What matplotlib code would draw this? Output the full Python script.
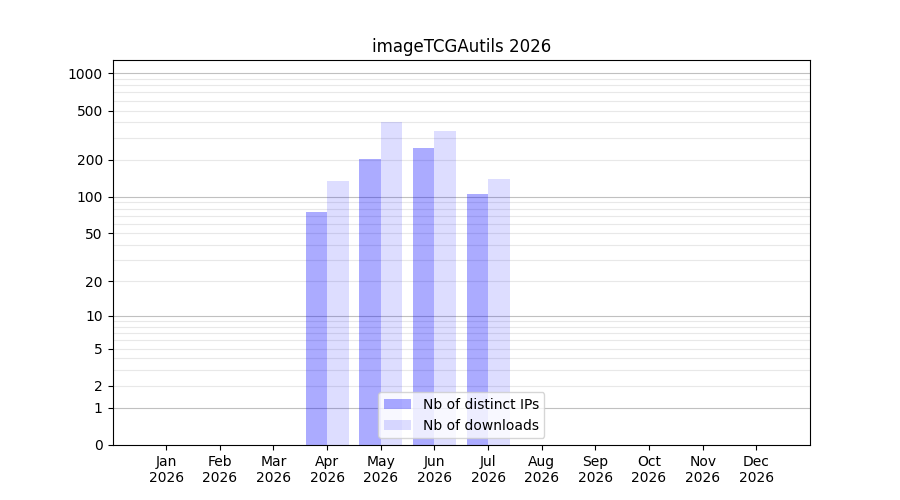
import numpy as np
import matplotlib
matplotlib.use('Agg')
from matplotlib import pyplot as plt

# data
months = ['Jan', 'Feb', 'Mar', 'Apr', 'May', 'Jun', 'Jul', 'Aug', 'Sep', 'Oct', 'Nov', 'Dec']
year = '2026'
nb_ips = [0, 0, 0, 75, 201, 247, 105, 0, 0, 0, 0, 0]
nb_downloads = [0, 0, 0, 134, 401, 339, 139, 0, 0, 0, 0, 0]
ytick_values = [0, 1, 2, 5, 10, 20, 50, 100, 200, 500, 1000]


def fwd(y):
    return np.log10(1 + np.clip(y, 0, None))


def inv(y):
    return 10 ** y - 1


fig, ax = plt.subplots(figsize=(9, 5), dpi=100)
ax.set_yscale('function', functions=(fwd, inv))

# grid lines: darker at decades, lighter between
for d in [1, 10, 100]:
    for k in range(2, 10):
        ax.axhline(d * k, color='#e8e8e8', lw=0.8, zorder=0)
for d in [1, 10, 100, 1000]:
    ax.axhline(d, color='#c0c0c0', lw=0.8, zorder=0)

x = np.arange(len(months))
ax.bar(x - 0.2, nb_ips, width=0.4, color='blue', alpha=0.33, label='Nb of distinct IPs', zorder=1)
ax.bar(x + 0.2, nb_downloads, width=0.4, color='blue', alpha=0.133, label='Nb of downloads', zorder=1)

ax.set_xticks(x)
ax.set_xticklabels([m + '\n' + year for m in months])
ax.set_xlim(-1, 12)

ax.set_yticks(ytick_values)
ax.set_yticklabels([str(v) for v in ytick_values])
ax.yaxis.set_minor_locator(matplotlib.ticker.NullLocator())
ax.set_ylim(0, 1280)

ax.set_title('imageTCGAutils 2026')
ax.legend(loc='lower center')

plt.savefig('out.png')
